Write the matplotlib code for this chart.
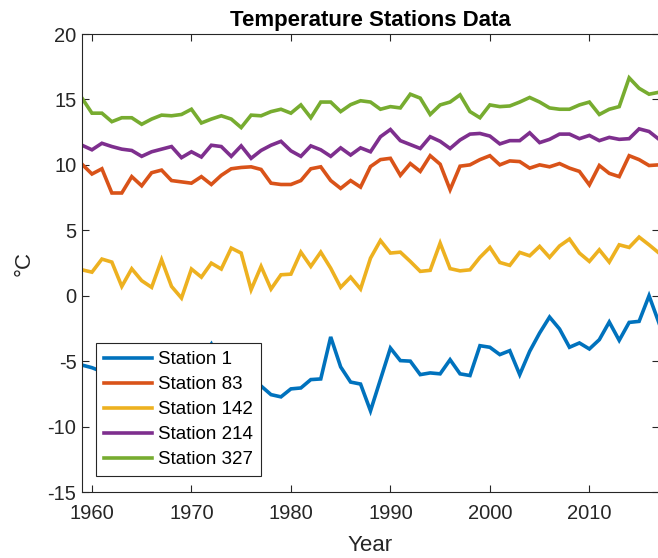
import numpy as np
import matplotlib.pyplot as plt

plt.rcParams['font.family'] = ['Liberation Sans', 'DejaVu Sans']
plt.rcParams['axes.unicode_minus'] = False

# Yearly mean temperatures, 1959 - 2017
years = np.arange(1959, 2018)

station_1 = [-5.3, -5.5, -5.8, -6.2, -5.6, -6.5, -6.0, -5.2, -6.3, -5.9,
             -6.8, -5.5, -4.8, -3.7, -5.4, -6.0, -6.4, -6.6, -6.9, -7.56,
             -7.73, -7.12, -7.05, -6.41, -6.36, -3.15, -5.44, -6.6, -6.75, -8.8,
             -6.4, -4.0, -4.96, -5.0, -6.03, -5.9, -5.97, -4.89, -5.97, -6.1,
             -3.82, -3.94, -4.5, -4.2, -6.03, -4.25, -2.85, -1.63, -2.54, -3.94,
             -3.61, -4.07, -3.36, -2.01, -3.41, -2.04, -1.96, 0.0, -2.09]

station_83 = [10.05, 9.3, 9.7, 7.85, 7.85, 9.1, 8.4, 9.4, 9.6, 8.8,
              8.7, 8.6, 9.1, 8.5, 9.2, 9.7, 9.8, 9.85, 9.65, 8.6,
              8.5, 8.5, 8.8, 9.7, 9.85, 8.8, 8.2, 8.8, 8.3, 9.87,
              10.4, 10.5, 9.2, 10.1, 9.5, 10.7, 10.05, 8.1, 9.9, 10.0,
              10.4, 10.7, 10.0, 10.3, 10.25, 9.75, 10.0, 9.85, 10.1, 9.75,
              9.5, 8.47, 9.95, 9.35, 9.1, 10.7, 10.4, 9.95, 10.0]

station_142 = [1.98, 1.8, 2.8, 2.57, 0.71, 2.06, 1.15, 0.64, 2.75, 0.71,
               -0.18, 2.04, 1.42, 2.49, 2.04, 3.64, 3.26, 0.46, 2.24, 0.51,
               1.6, 1.65, 3.33, 2.24, 3.33, 2.1, 0.64, 1.42, 0.51, 2.87,
               4.22, 3.26, 3.33, 2.62, 1.86, 1.94, 4.02, 2.07, 1.9, 1.98,
               2.93, 3.69, 2.54, 2.32, 3.31, 3.05, 3.77, 2.93, 3.8, 4.33,
               3.26, 2.62, 3.51, 2.57, 3.89, 3.69, 4.48, 3.89, 3.26]

station_214 = [11.5, 11.15, 11.65, 11.4, 11.2, 11.1, 10.65, 11.0, 11.2, 11.4,
               10.55, 11.0, 10.6, 11.5, 11.4, 10.65, 11.45, 10.5, 11.1, 11.5,
               11.8, 11.07, 10.65, 11.45, 11.15, 10.65, 11.3, 10.75, 11.3, 11.0,
               12.15, 12.7, 11.85, 11.55, 11.25, 12.15, 11.8, 11.25, 11.9, 12.35,
               12.4, 12.2, 11.6, 11.85, 11.85, 12.45, 11.7, 11.95, 12.35, 12.35,
               12.0, 12.25, 11.85, 12.1, 11.95, 12.0, 12.75, 12.55, 11.95]

station_327 = [15.1, 13.95, 13.95, 13.3, 13.6, 13.6, 13.1, 13.5, 13.8, 13.75,
               13.85, 14.25, 13.2, 13.5, 13.75, 13.5, 12.85, 13.8, 13.75, 14.07,
               14.25, 13.95, 14.58, 13.6, 14.8, 14.8, 14.07, 14.6, 14.9, 14.8,
               14.25, 14.45, 14.35, 15.4, 15.1, 13.85, 14.58, 14.8, 15.35, 14.07,
               13.6, 14.58, 14.45, 14.5, 14.8, 15.15, 14.8, 14.35, 14.25, 14.25,
               14.58, 14.8, 13.85, 14.25, 14.45, 16.65, 15.85, 15.4, 15.55]

labels = ['Station 1', 'Station 83', 'Station 142', 'Station 214', 'Station 327']
colors = ['#0072BD', '#D95319', '#EDB120', '#7E2F8E', '#77AC30']
series = [station_1, station_83, station_142, station_214, station_327]

fig = plt.figure(figsize=(6.58, 5.58), dpi=100)
ax = fig.add_axes([82/658, 66/558, 577/658, 458/558])

for vals, lab, col in zip(series, labels, colors):
    ax.plot(years, vals, color=col, lw=2.6, label=lab, solid_joinstyle='miter')

ax.set_xlim(1959, 2017)
ax.set_ylim(-15, 20)
ax.set_xticks(np.arange(1960, 2020, 10))
ax.set_yticks(np.arange(-15, 21, 5))

dark = '#262626'
ax.tick_params(direction='in', length=5, width=0.8, labelsize=14.5,
               colors=dark, top=True, right=True)
ax.tick_params(axis='x', pad=8.5)
ax.tick_params(axis='y', pad=4)
for s in ax.spines.values():
    s.set_color(dark)
    s.set_linewidth(0.8)

ax.set_title('Temperature Stations Data', fontsize=16, fontweight='bold', pad=6)
ax.set_xlabel('Year', fontsize=16, color=dark, labelpad=9)
ax.set_ylabel('°C', fontsize=16, color=dark, labelpad=9)

leg = ax.legend(loc='lower left', bbox_to_anchor=(0.024, 0.035), borderaxespad=0,
                fontsize=13.5, handlelength=2.6, labelspacing=0.42,
                fancybox=False, framealpha=1, edgecolor=dark, borderpad=0.42,
                handletextpad=0.3)
leg.get_frame().set_linewidth(0.8)

plt.savefig('out.png', dpi=100)
